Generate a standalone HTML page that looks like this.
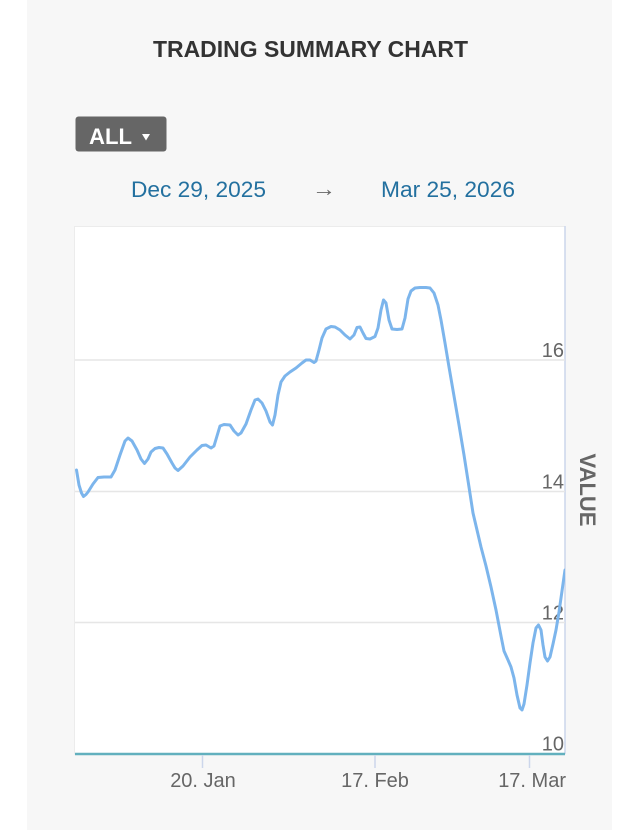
<!DOCTYPE html>
<html>
<head>
<meta charset="utf-8">
<style>
  html, body { margin: 0; padding: 0; background: #ffffff; }
  body { width: 640px; height: 830px; overflow: hidden; }
  svg { display: block; font-family: "Liberation Sans", Arial, sans-serif; }
</style>
</head>
<body>
<svg width="640" height="830" viewBox="0 0 640 830" xmlns="http://www.w3.org/2000/svg">
  <!-- panel background -->
  <rect x="0" y="0" width="640" height="830" fill="#ffffff"/>
  <rect x="27" y="0" width="585" height="830" fill="#f7f7f7"/>

  <!-- title -->
  <text x="153" y="57" font-size="23" font-weight="bold" fill="#333333" textLength="315" lengthAdjust="spacingAndGlyphs">TRADING SUMMARY CHART</text>

  <!-- ALL button -->
  <rect x="75.5" y="116.5" width="91" height="35" rx="3" ry="3" fill="#666666"/>
  <text x="89" y="144" font-size="22" font-weight="bold" fill="#ffffff" textLength="43" lengthAdjust="spacingAndGlyphs">ALL</text>
  <polygon points="142,134 150,134 146,140.5" fill="#ffffff"/>

  <!-- date range -->
  <text x="131" y="197" font-size="22" fill="#23709f" textLength="135" lengthAdjust="spacingAndGlyphs">Dec 29, 2025</text>
  <text x="312" y="196" font-size="22" fill="#666666" textLength="24" lengthAdjust="spacingAndGlyphs">→</text>
  <text x="381" y="197" font-size="22" fill="#23709f" textLength="134" lengthAdjust="spacingAndGlyphs">Mar 25, 2026</text>

  <!-- plot area -->
  <rect x="74.5" y="226.5" width="490.5" height="527.5" fill="#ffffff" stroke="#ececec" stroke-width="1"/>
  <line x1="565" y1="226" x2="565" y2="754" stroke="#ccd6eb" stroke-width="1.5"/>

  <!-- gridlines -->
  <line x1="75" y1="360" x2="565" y2="360" stroke="#e6e6e6" stroke-width="1.5"/>
  <line x1="75" y1="491.5" x2="565" y2="491.5" stroke="#e6e6e6" stroke-width="1.5"/>
  <line x1="75" y1="622.5" x2="565" y2="622.5" stroke="#e6e6e6" stroke-width="1.5"/>

  <!-- y labels -->
  <g font-size="20" fill="#666666" text-anchor="end">
    <text x="564" y="357">16</text>
    <text x="564" y="488.5">14</text>
    <text x="564" y="619.5">12</text>
    <text x="564" y="750.5">10</text>
  </g>

  <!-- axis title -->
  <text transform="translate(580,490) rotate(90)" text-anchor="middle" font-size="22" font-weight="bold" fill="#666666">VALUE</text>

  <!-- series -->
  <clipPath id="pc"><rect x="75" y="226" width="490" height="528"/></clipPath>
  <polyline clip-path="url(#pc)" fill="none" stroke="#7cb5ec" stroke-width="3" stroke-linejoin="round" stroke-linecap="round"
    points="76.5,470 79,485 81.5,493 83.5,496.5 86,494.5 88,492 93,484 98,477.5 104,477 111,477 115,470 120,455 125,441 128,438 132,441 137,450 141,459 144.5,463.5 148,459 151,452 155,448.5 159,447.5 163,448 167,454 172,463 175,468 178,470.5 183,466 190,457 197,450 202,445.5 206,445 211,448 214,446 217,436 220,426 224,424.5 230,425 234,431 238,435 241,433 246,424 251,410 255,400 258,399 262,403 266,411 270,422 272.5,425 275,415 278,395 281,382 285,376 290,372 296,368 302,363 306,360 310,360 314,362.5 316,361 319,350 322,338 326,329 331,326.5 335,327 340,330 345,335 350,339 354,335 357,327.5 360,327 363,333 366,338.5 370,339 375,336.5 378,328 381,310 383.5,300 386,303 389,320 392,329 397,329.5 402,329 405,318 408,299 411,291 415,288 420,287.5 426,287.5 430,288 434,293 438,305 441,320 445,343 449,367 454,396 459,425 464,455 469,487 473,513 477,530 481,547 486,566 491,587 496,610 501,636 504,651 508,660 511,667 514,678 517,695 520,708 522,710 524,704 527,685 530,663 533,643 536,628 538.5,625 541,630 543,645 545,657 547.5,661 550,657 553,644 556,630 559,612 562,591 565,570"/>

  <!-- x axis -->
  <line x1="75" y1="754" x2="565" y2="754" stroke="#62b0be" stroke-width="2.5"/>
  <g stroke="#ccd6eb" stroke-width="1.5">
    <line x1="202.5" y1="755" x2="202.5" y2="768"/>
    <line x1="375" y1="755" x2="375" y2="768"/>
    <line x1="529.5" y1="755" x2="529.5" y2="768"/>
  </g>
  <g font-size="20" fill="#666666">
    <text x="203" y="787" text-anchor="middle">20. Jan</text>
    <text x="375" y="787" text-anchor="middle">17. Feb</text>
    <text x="566" y="787" text-anchor="end">17. Mar</text>
  </g>
</svg>
</body>
</html>
